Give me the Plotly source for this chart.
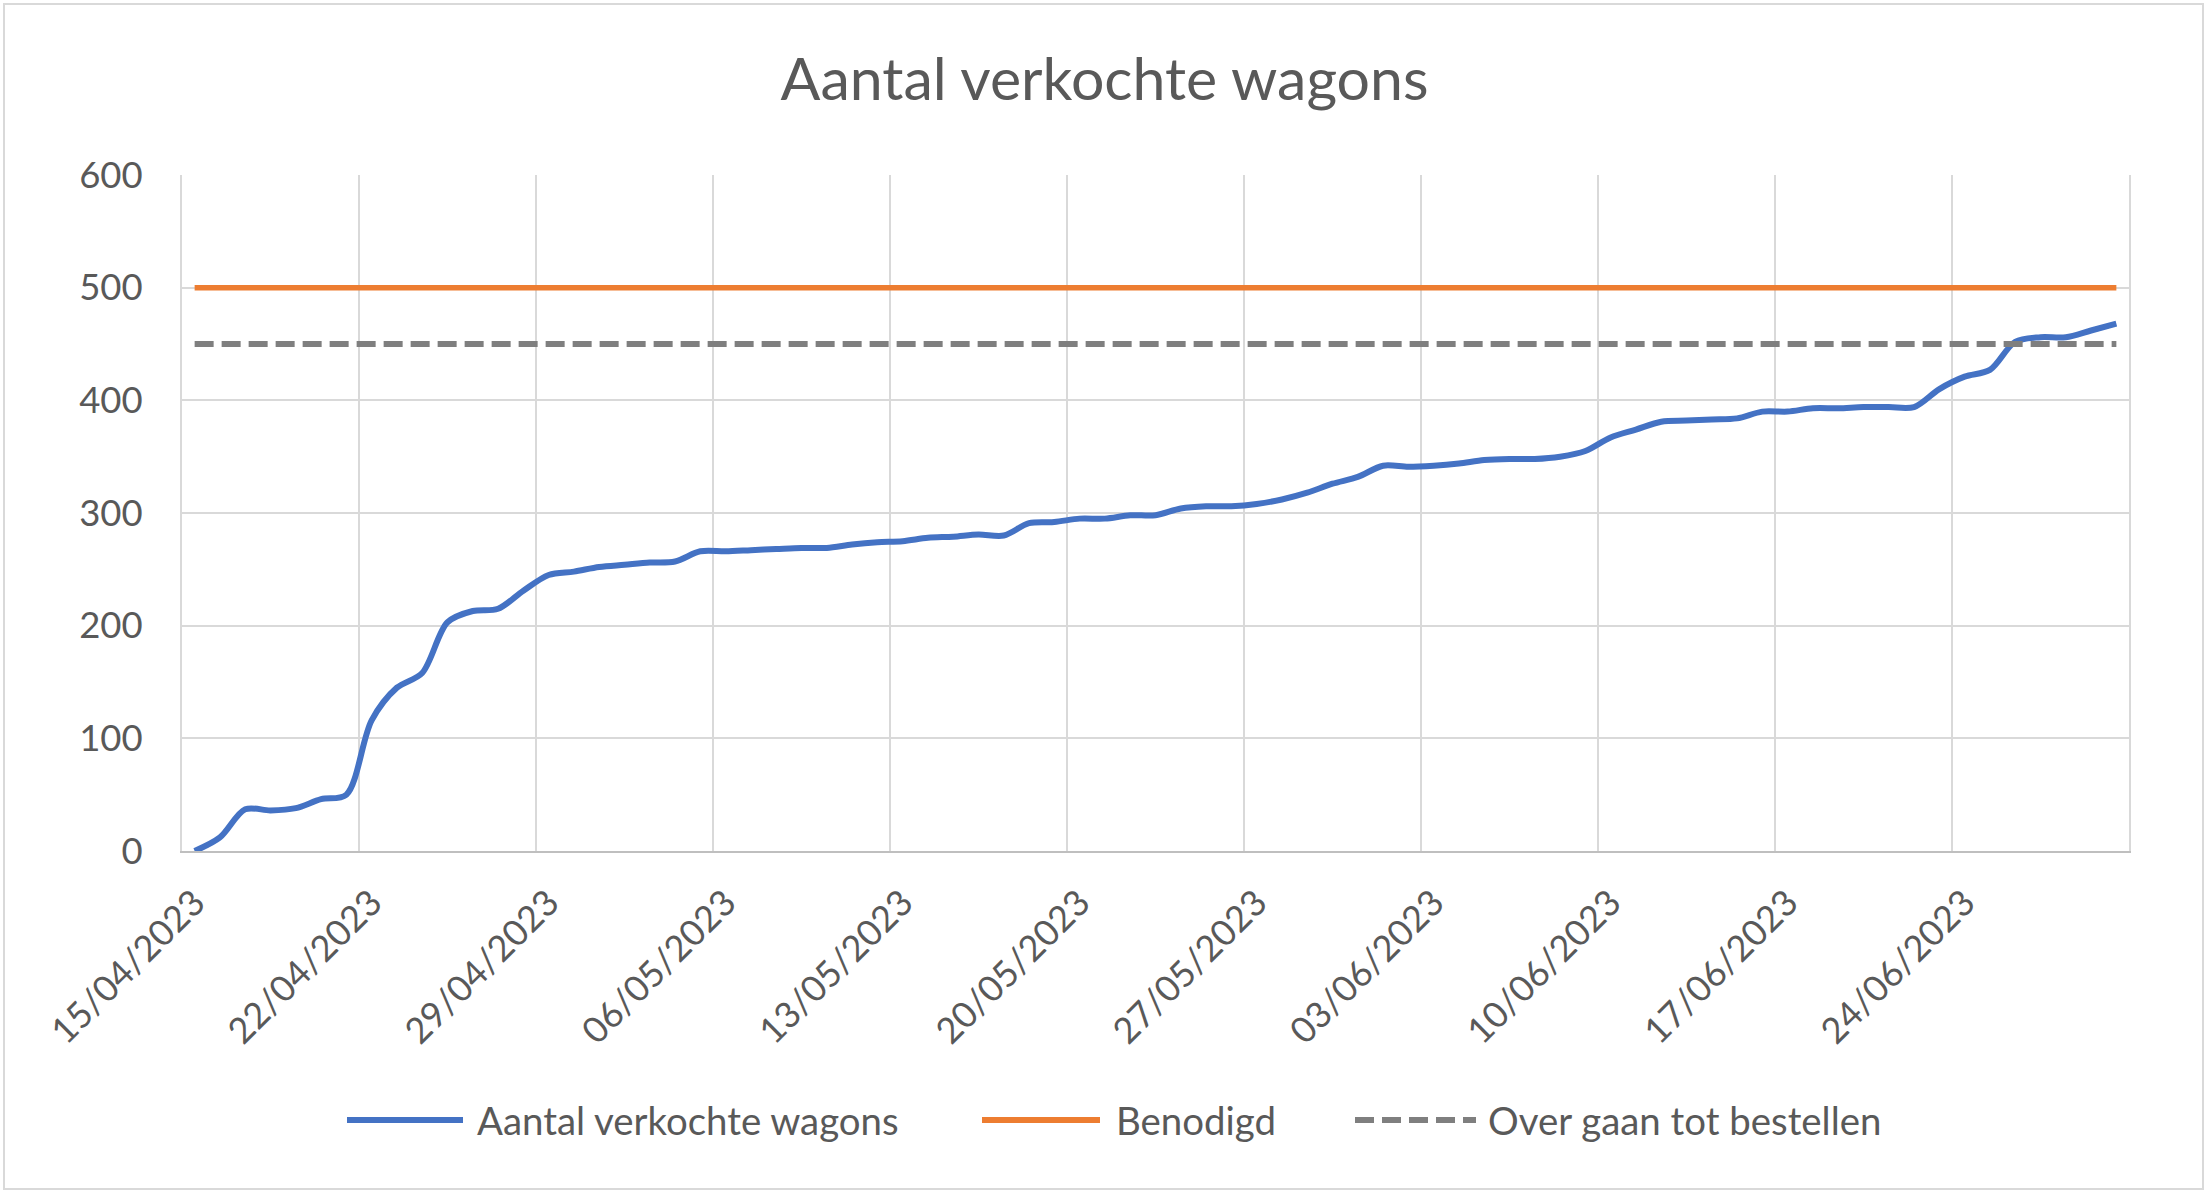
import pandas as pd
import plotly.graph_objects as go

# ---------------- data ----------------
start_date = "2023-04-15"
end_date = "2023-06-30"
dates = pd.date_range(start_date, end_date, freq="D")

verkocht = [
    0, 12, 37, 36, 38, 46, 50, 116, 145, 158,
    203, 213, 215, 231, 245, 248, 252, 254, 256, 257,
    266, 266, 267, 268, 269, 269, 272, 274, 275, 278,
    279, 281, 280, 291, 292, 295, 295, 298, 298, 304,
    306, 306, 308, 312, 318, 326, 332, 342, 341, 342,
    344, 347, 348, 348, 350, 355, 367, 374, 381, 382,
    383, 384, 390, 390, 393, 393, 394, 394, 394, 410,
    421, 427, 452, 456, 456, 462, 468,
]
benodigd_value = 500
bestellen_value = 450
benodigd = [benodigd_value] * len(dates)
bestellen = [bestellen_value] * len(dates)

tick_dates = ["2023-04-15", "2023-04-22", "2023-04-29", "2023-05-06", "2023-05-13",
              "2023-05-20", "2023-05-27", "2023-06-03", "2023-06-10", "2023-06-17",
              "2023-06-24"]
tick_labels = ["15/04/2023", "22/04/2023", "29/04/2023", "06/05/2023", "13/05/2023",
               "20/05/2023", "27/05/2023", "03/06/2023", "10/06/2023", "17/06/2023",
               "24/06/2023"]

series_names = ["Aantal verkochte wagons", "Benodigd", "Over gaan tot bestellen"]
colors = ["#4472C4", "#ED7D31", "#7F7F7F"]
title_text = "Aantal verkochte wagons"

# ---------------- layout helpers ----------------
W, H = 2209, 1196
PL, PR, PT, PB = 182, 2129, 175, 851
FONT = "Lato"
TXT = "#595959"
GRID = "#D9D9D9"
DASH = "19px,8px"


def px(x):
    return (x - PL) / (PR - PL)


def py(y):
    return (PB - y) / (PB - PT)


fig = go.Figure()
fig.add_trace(go.Scatter(x=dates, y=verkocht, name=series_names[0], mode="lines",
                         line=dict(color=colors[0], width=6, shape="spline", smoothing=0.9)))
fig.add_trace(go.Scatter(x=dates, y=benodigd, name=series_names[1], mode="lines",
                         line=dict(color=colors[1], width=5.5)))
fig.add_trace(go.Scatter(x=dates, y=bestellen, name=series_names[2], mode="lines",
                         line=dict(color=colors[2], width=6, dash=DASH)))

shapes = []
# outer chart border
shapes.append(dict(type="rect", xref="paper", yref="paper",
                   x0=px(4), x1=px(2203), y0=py(4), y1=py(1189),
                   line=dict(color=GRID, width=2), layer="below"))

# custom legend
leg_y = 1120
leg_items = [
    (347, 463, 475, series_names[0], colors[0], "solid"),
    (982, 1100, 1114, series_names[1], colors[1], "solid"),
    (1355, 1476, 1486, series_names[2], colors[2], DASH),
]
annotations = []
for x0, x1, tx, name, col, dash in leg_items:
    shapes.append(dict(type="line", xref="paper", yref="paper",
                       x0=px(x0), x1=px(x1), y0=py(leg_y), y1=py(leg_y),
                       line=dict(color=col, width=6, dash=dash)))
    annotations.append(dict(xref="paper", yref="paper", x=px(tx), y=py(leg_y),
                            text=name, showarrow=False, xanchor="left", yanchor="middle",
                            font=dict(family=FONT, size=38.4, color=TXT)))

fig.update_layout(
    width=W, height=H,
    margin=dict(l=PL, r=W - PR, t=PT, b=H - PB, pad=0),
    paper_bgcolor="white", plot_bgcolor="white",
    showlegend=False,
    title=dict(text=title_text, x=0.5, xref="container", xanchor="center",
               y=1 - 79 / H, yref="container", yanchor="middle",
               font=dict(family=FONT, size=59, color=TXT)),
    shapes=shapes,
    annotations=annotations,
)

fig.update_xaxes(
    type="date",
    range=["2023-04-14 12:00", "2023-06-30 12:00"],
    tickmode="array", tickvals=tick_dates, ticktext=tick_labels,
    tickangle=-45, ticks="", showgrid=False,
    tickfont=dict(family=FONT, size=36, color=TXT),
    ticklabelstandoff=14,
    showline=True, linecolor="#BFBFBF", linewidth=2,
    zeroline=False,
    minor=dict(tickmode="linear", tick0="2023-04-14 12:00", dtick=7 * 86400000,
               showgrid=True, gridcolor=GRID, gridwidth=2, ticks=""),
)
fig.update_yaxes(
    range=[0, 600], tickmode="linear", tick0=0, dtick=100,
    showgrid=True, gridcolor=GRID, gridwidth=2,
    zeroline=False, showline=True, linecolor=GRID, linewidth=2, mirror=True,
    ticks="",
    tickfont=dict(family=FONT, size=36.5, color=TXT),
    ticklabelstandoff=30,
)

fig.write_html("out.html")
